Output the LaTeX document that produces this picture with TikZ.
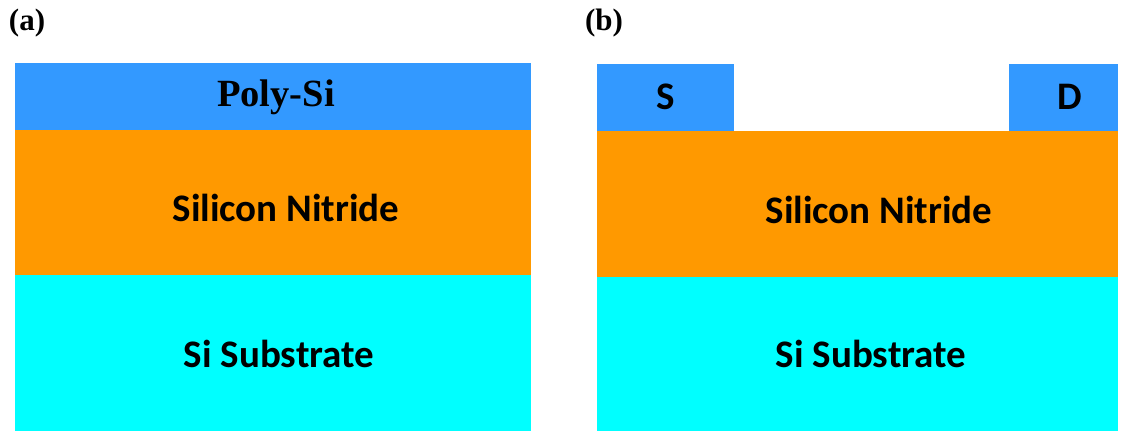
\documentclass[tikz,border=0pt]{standalone}
\usepackage{fontspec}
\setmainfont{Liberation Serif}
\newfontfamily\calfont{Carlito}
\definecolor{polyblue}{HTML}{3399FF}
\definecolor{nitrideorange}{HTML}{FF9900}
\definecolor{subcyan}{HTML}{00FFFF}
\tikzset{
  calib/.style={font=\calfont\bfseries\fontsize{39}{41}\selectfont, text=black, inner sep=0pt},
  tnr/.style={font=\bfseries\fontsize{38.5}{40}\selectfont, text=black, inner sep=0pt},
  panellabel/.style={font=\bfseries\fontsize{31}{33}\selectfont, inner sep=0pt}
}
\begin{document}
\begin{tikzpicture}[x=1pt,y=-1pt]
\useasboundingbox (0,0) rectangle (1133,432);
% panel (a)
\fill[polyblue] (15,63) rectangle (531,130);
\fill[nitrideorange] (15,130) rectangle (531,275);
\fill[subcyan] (15,275) rectangle (531,431);
\node[panellabel] (la) at (27,23) {(a)};
\node[tnr] (polysi) at (276,97) {Poly-Si};
\node[calib] (nitra) at (286,208) {Silicon Nitride};
\node[calib] (suba) at (279,354) {Si Substrate};
% panel (b)
\fill[polyblue] (597,64) rectangle (734,131);
\fill[polyblue] (1009,64) rectangle (1118,131);
\fill[nitrideorange] (597,131) rectangle (1118,277);
\fill[subcyan] (597,277) rectangle (1118,431);
\node[panellabel] (lb) at (604,23) {(b)};
\node[calib] (src) at (666,97) {S};
\node[calib] (drn) at (1070,97) {D};
\node[calib] (nitrb) at (879,210) {Silicon Nitride};
\node[calib] (subb) at (871,354) {Si Substrate};
\end{tikzpicture}
\end{document}
